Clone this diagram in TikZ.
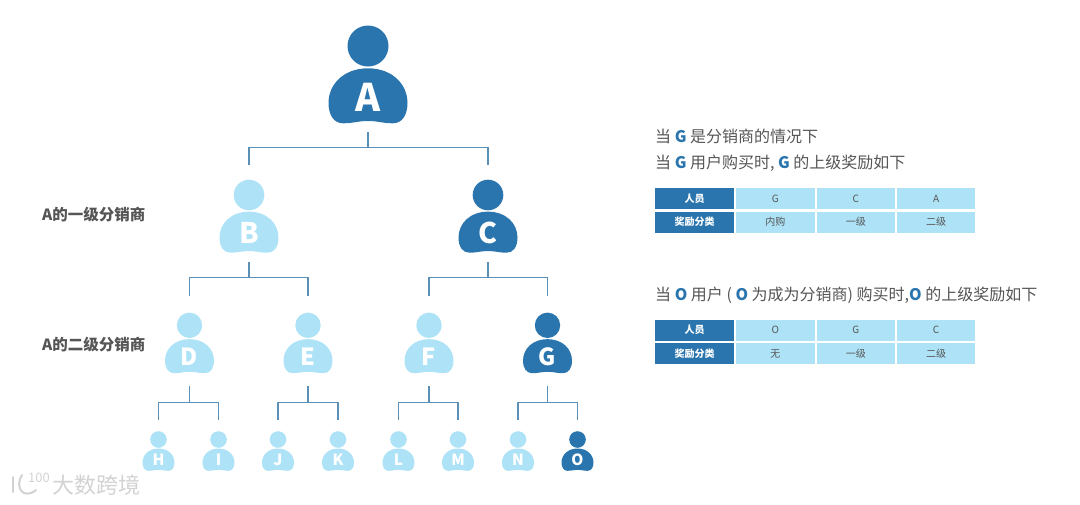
\documentclass[tikz,border=0pt]{standalone}
\usepackage{fontspec}
\usepackage{tikz}
\usetikzlibrary{positioning}
\setmainfont{Noto Sans CJK SC}
\definecolor{deepblue}{HTML}{2A75AE}
\definecolor{paleblue}{HTML}{AEE3F7}
\definecolor{railblue}{HTML}{5A90B8}
\definecolor{bodytext}{HTML}{555555}
\definecolor{markgray}{HTML}{D2D2D2}
\newcommand{\hl}[1]{{\bfseries\color{deepblue}#1}}
\newcommand{\person}[5]{%
  \begin{scope}[shift={(#2,#3)},scale=#4]
    \fill[#5] (0,0) circle (20.5);
    \fill[#5] (0,22.3) .. controls (-24,22.3) and (-39.5,38) .. (-39.5,57)
      .. controls (-39.5,69) and (-34,77.3) .. (-25,77.3)
      .. controls (-15,77.3) and (-10,75) .. (0,75)
      .. controls (10,75) and (15,77.3) .. (25,77.3)
      .. controls (34,77.3) and (39.5,69) .. (39.5,57)
      .. controls (39.5,38) and (24,22.3) .. (0,22.3) -- cycle;
    \node[spot] (#1) at (0,28.4) {};
    \node[letter] (#1-letter) at (0,65) {#1};
  \end{scope}}
\begin{document}
\begin{tikzpicture}[
  x=1pt,y=-1pt,
  node distance=2pt and 1.5pt,
  spot/.style={transform shape,inner sep=0pt,minimum width=79pt,minimum height=97.8pt},
  letter/.style={transform shape,anchor=base,inner sep=0pt,text=white,font=\fontsize{38}{38}\selectfont\bfseries},
  link/.style 2 args={draw=railblue,line width=1.1pt,shorten <=#1pt,shorten >=#2pt},
  side/.style={anchor=west,inner sep=0pt,text=bodytext,font=\fontsize{15.5}{18}\selectfont\bfseries},
  line/.style={anchor=west,inner sep=0pt,text=bodytext,font=\fontsize{16}{18}\selectfont},
  head/.style={fill=deepblue,text=white,inner sep=0pt,minimum width=79pt,minimum height=21pt,font=\fontsize{10}{12}\selectfont\bfseries},
  cell/.style={fill=paleblue,text=bodytext,inner sep=0pt,minimum width=78.5pt,minimum height=21pt,font=\fontsize{10}{12}\selectfont},
  logo/.style={draw=markgray,line width=2pt,line cap=round}
]
\useasboundingbox (0,0) rectangle (1080,504);

\person{A}{368}{46}{1}{deepblue}
\person{B}{249}{195}{.747}{paleblue}
\person{C}{488}{195}{.747}{deepblue}
\person{D}{189.5}{325.3}{.62}{paleblue}
\person{E}{308}{325.3}{.62}{paleblue}
\person{F}{429}{325.3}{.62}{paleblue}
\person{G}{547.5}{325.3}{.62}{deepblue}
\person{H}{158.5}{439.5}{.405}{paleblue}
\person{I}{218.5}{439.5}{.405}{paleblue}
\person{J}{278}{439.5}{.405}{paleblue}
\person{K}{338}{439.5}{.405}{paleblue}
\person{L}{398.5}{439.5}{.405}{paleblue}
\person{M}{458}{439.5}{.405}{paleblue}
\person{N}{518}{439.5}{.405}{paleblue}
\person{O}{577.5}{439.5}{.405}{deepblue}

\draw[link={8.4}{14.7}] (A.south) -- ++(0,24.4) -| (B.north);
\draw[link={8.4}{14.7}] (A.south) -- ++(0,24.4) -| (C.north);
\draw[link={9}{16.9}] (B.south) -- ++(0,25) -| (D.north);
\draw[link={9}{16.9}] (B.south) -- ++(0,25) -| (E.north);
\draw[link={9}{16.9}] (C.south) -- ++(0,25) -| (F.north);
\draw[link={9}{16.9}] (C.south) -- ++(0,25) -| (G.north);
\draw[link={12.8}{11.2}] (D.south) -- ++(0,29.1) -| (H.north);
\draw[link={12.8}{11.2}] (D.south) -- ++(0,29.1) -| (I.north);
\draw[link={12.8}{11.2}] (E.south) -- ++(0,29.1) -| (J.north);
\draw[link={12.8}{11.2}] (E.south) -- ++(0,29.1) -| (K.north);
\draw[link={12.8}{11.2}] (F.south) -- ++(0,29.1) -| (L.north);
\draw[link={12.8}{11.2}] (F.south) -- ++(0,29.1) -| (M.north);
\draw[link={12.8}{11.2}] (G.south) -- ++(0,29.1) -| (N.north);
\draw[link={12.8}{11.2}] (G.south) -- ++(0,29.1) -| (O.north);

\node[side] (level1) at (42,215) {A的一级分销商};
\node[side] (level2) at (42,345) {A的二级分销商};

\node[line] (line1) at (655,136) {当 \hl{G} 是分销商的情况下};
\node[line] (line2) at (655,163) {当 \hl{G} 用户购买时, \hl{G} 的上级奖励如下};
\node[line] (line3) at (655,295.5) {当 \hl{O} 用户 ( \hl{O} 为成为分销商) 购买时,\hl{O} 的上级奖励如下};

% first table
\node[head,anchor=north west] (t1a) at (655,188) {人员};
\node[cell,right=of t1a] (t1b) {G};
\node[cell,right=of t1b] (t1c) {C};
\node[cell,right=of t1c] (t1d) {A};
\node[head,below=of t1a] (t1e) {奖励分类};
\node[cell,right=of t1e] (t1f) {内购};
\node[cell,right=of t1f] (t1g) {一级};
\node[cell,right=of t1g] (t1h) {二级};

% second table
\node[head,anchor=north west] (t2a) at (655,319.5) {人员};
\node[cell,right=of t2a] (t2b) {O};
\node[cell,right=of t2b] (t2c) {G};
\node[cell,right=of t2c] (t2d) {C};
\node[head,below=of t2a] (t2e) {奖励分类};
\node[cell,right=of t2e] (t2f) {无};
\node[cell,right=of t2f] (t2g) {一级};
\node[cell,right=of t2g] (t2h) {二级};

% watermark
\draw[logo] (13,477) -- (13,492);
\draw[logo] (22,475) .. controls (14,488) and (24,500) .. (36,490);
\node[inner sep=0pt,text=markgray,font=\fontsize{13}{13}\selectfont] (mark100) at (39,478) {100};
\node[anchor=west,inner sep=0pt,text=markgray,font=\fontsize{22}{24}\selectfont] (markname) at (52,485) {大数跨境};
\end{tikzpicture}
\end{document}
